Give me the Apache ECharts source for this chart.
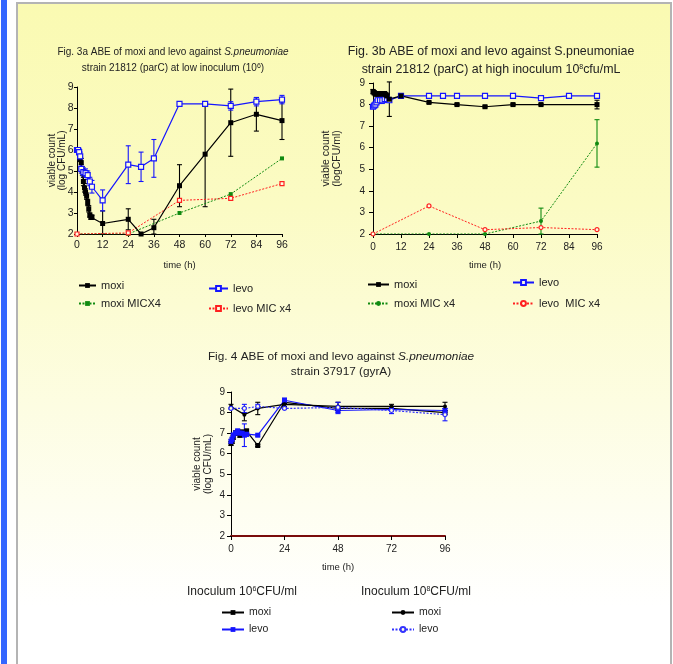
<!DOCTYPE html>
<html><head><meta charset="utf-8">
<script src="https://cdn.jsdelivr.net/npm/echarts@6/dist/echarts.min.js"></script>
<style>
html,body{margin:0;padding:0;width:673px;height:664px;overflow:hidden;background:#fff;}
#bar{position:absolute;left:1px;top:0;width:6px;height:664px;background:#3366ff;}
#panel{position:absolute;left:16px;top:2px;width:652px;height:670px;border:2px solid #b4b4b4;border-bottom:none;
  background:linear-gradient(to bottom,#fafab2 0%,#fbfbc4 30%,#fdfde2 60%,#ffffff 90%);}
#chart{position:absolute;left:0;top:0;width:673px;height:664px;}
</style></head>
<body>
<div id="bar"></div><div id="panel"></div><div id="chart"></div>
<script>
// ---------- Fig 3a (low inoculum) ----------
const t3a_moxi = [0,0.5,1,1.5,2,2.5,3,3.5,4,4.5,5,5.5,6,6.5,7,12,24,30,36,48,60,72,84,96];
const v3a_moxi = [6.0,6.0,5.9,5.6,5.4,5.0,4.5,4.2,4.0,3.8,3.5,3.2,2.9,2.8,2.8,2.5,2.7,2.0,2.3,4.3,5.8,7.3,7.7,7.4];
const e3a_moxi = [0.05,0.1,0.1,0.15,0.2,0.2,0.2,0.2,0.15,0.15,0.15,0.15,0.1,0.1,0.1,0.6,0.5,0,0.4,1.0,2.5,1.6,0.8,0.9];
const t3a_levo = [0,0.5,1,1.5,2,3,4,5,6,7,12,24,30,36,48,60,72,84,96];
const v3a_levo = [6.0,6.0,5.9,5.7,5.1,4.95,4.9,4.8,4.5,4.25,3.6,5.3,5.2,5.6,8.2,8.2,8.1,8.3,8.4];
const e3a_levo = [0.1,0.1,0.15,0.2,0.2,0.2,0.2,0.2,0.2,0.3,0.5,0.9,0.7,0.9,0.05,0.1,0.2,0.2,0.2];
const t3a_mic = [0,24,48,72,96];
const v3a_moxiMic = [2.0,2.0,3.0,3.9,5.6];
const v3a_levoMic = [2.0,2.05,3.6,3.7,4.4];

// ---------- Fig 3b (high inoculum) ----------
const t3b_moxi = [0,0.5,1,1.5,2,2.5,3,3.5,4,4.5,5,5.5,6,7,12,24,36,48,60,72,96];
const v3b_moxi = [8.6,8.55,8.5,8.5,8.5,8.5,8.5,8.5,8.5,8.5,8.5,8.45,8.4,8.25,8.4,8.1,8.0,7.9,8.0,8.0,8.0];
const e3b_moxi = [0.1,0.1,0.1,0.1,0.1,0.1,0.1,0.1,0.1,0.1,0.1,0.1,0.1,0.8,0.05,0.05,0.05,0.05,0.05,0.05,0.2];
const t3b_levo = [0,0.5,1,1.5,2,3,4,5,6,7,12,24,30,36,48,60,72,84,96];
const v3b_levo = [7.9,7.95,8.0,8.1,8.2,8.2,8.2,8.25,8.25,8.2,8.4,8.4,8.4,8.4,8.4,8.4,8.3,8.4,8.4];
const e3b_levo = [0.05,0.05,0.1,0.1,0.1,0.15,0.15,0.15,0.15,0.1,0.05,0.05,0.05,0.05,0.05,0.05,0.05,0.05,0.05];
const t3b_mic = [0,24,48,72,96];
const v3b_moxiMic = [2.0,2.0,2.0,2.6,6.2];
const e3b_moxiMic = [0,0,0,0.6,1.1];
const v3b_levoMic = [2.0,3.3,2.2,2.3,2.2];

// ---------- Fig 4 (strain 37917) ----------
const t4_low = [0,0.5,1,2,3,4,5,6,7,12,24,48,72,96];
const v4_moxi6 = [6.5,6.6,6.8,7.0,7.05,6.9,7.05,7.0,7.1,6.4,8.5,8.2,8.2,8.0];
const e4_moxi6 = [0.1,0.1,0.1,0.1,0.1,0.1,0.1,0.1,0.1,0.05,0.1,0.1,0.1,0.1];
const v4_levo6 = [6.6,6.7,6.9,7.0,7.1,7.0,7.0,6.9,6.95,6.9,8.6,8.1,8.15,8.1];
const e4_levo6 = [0.1,0.1,0.1,0.1,0.1,0.1,0.1,0.55,0.1,0.05,0.1,0.15,0.1,0.1];
const t4_high = [0,6,12,24,48,72,96];
const v4_moxi8 = [8.3,7.9,8.2,8.4,8.3,8.3,8.3];
const e4_moxi8 = [0.1,0.3,0.3,0.1,0.2,0.1,0.2];
const v4_levo8 = [8.2,8.2,8.3,8.2,8.25,8.1,7.9];
const e4_levo8 = [0.05,0.2,0.1,0.05,0.25,0.15,0.3];

const yTicks = [2,3,4,5,6,7,8,9];

const FONT = '"Liberation Sans", Arial, sans-serif';
const NARROW = '"Liberation Sans Narrow", "Arial Narrow", "Liberation Sans", sans-serif';
const TXT = '#222';

function pts(t, v){ return t.map((x,i)=>[x, v[i]]); }

function line(name, gi, t, v, o){
  return {
    type:'line', name, xAxisIndex:gi, yAxisIndex:gi, data:pts(t,v),
    symbol:o.symbol, symbolSize:o.size, showSymbol:true, animation:false,
    lineStyle:{color:o.color, width:o.width||1.2, type:o.dash||'solid'},
    itemStyle:{color:o.fill||o.color, borderColor:o.color, borderWidth:o.open?1.2:0},
    z:o.z||3
  };
}
function err(gi, t, v, e, color, cap){
  const data = [];
  t.forEach((x,i)=>{ if(e[i]>0) data.push([x, v[i]-e[i], v[i]+e[i]]); });
  return {
    type:'custom', xAxisIndex:gi, yAxisIndex:gi, silent:true, animation:false, z:2,
    encode:{x:0, y:[1,2]}, data,
    renderItem:(params, api)=>{
      const x = api.value(0);
      const lo = Math.max(api.value(1), 2), hi = Math.min(api.value(2), 9.05);
      const p1 = api.coord([x, lo]), p2 = api.coord([x, hi]);
      const w = cap||2.5;
      const st = {stroke:color, lineWidth:1.1};
      return {type:'group', children:[
        {type:'line', shape:{x1:p1[0], y1:p1[1], x2:p2[0], y2:p2[1]}, style:st},
        {type:'line', shape:{x1:p1[0]-w, y1:p1[1], x2:p1[0]+w, y2:p1[1]}, style:st},
        {type:'line', shape:{x1:p2[0]-w, y1:p2[1], x2:p2[0]+w, y2:p2[1]}, style:st}
      ]};
    }
  };
}

const grids = [
  {left:77, top:87, width:205, height:147},
  {left:373, top:83, width:224, height:151},
  {left:231, top:392, width:214, height:144}
];
function xAx(gi, interval, o){
  return {type:'value', gridIndex:gi, min:0, max:96, interval,
    name:'time (h)', nameLocation:'middle', nameGap:o.gap, nameMoveOverlap:false,
    nameTextStyle:{fontSize:9.5, color:TXT, fontFamily:FONT},
    axisLine:{onZero:false, lineStyle:{color:o.lc||'#000', width:o.lw||1}},
    axisTick:{length:o.tl||4, lineStyle:{color:'#000'}},
    axisLabel:{fontSize:o.fs||10, color:TXT, margin:o.m, fontFamily:FONT},
    splitLine:{show:false}};
}
function yAx(gi, name, o){
  return {type:'value', gridIndex:gi, min:yTicks[0], max:yTicks[yTicks.length-1], interval:1,
    name, nameLocation:'middle', nameGap:o.gap, nameRotate:90, nameMoveOverlap:false,
    nameTextStyle:{fontSize:o.nfs||10, color:TXT, fontFamily:o.font||FONT, lineHeight:o.lh||11},
    axisLine:{show:true, lineStyle:{color:'#000'}},
    axisTick:{show:true, length:o.tl||4, lineStyle:{color:'#000'}},
    axisLabel:{fontSize:o.fs||10, color:TXT, margin:o.m, fontFamily:FONT},
    splitLine:{show:false}};
}

const BLUE = '#1515ff', RED = '#ff2020', GREEN = '#108a10', BG = '#fdfde0';

const series = [
  // 3a
  err(0, t3a_moxi, v3a_moxi, e3a_moxi, '#000'),
  err(0, t3a_levo, v3a_levo, e3a_levo, BLUE),
  line('3a_mm', 0, t3a_mic, v3a_moxiMic, {color:GREEN, dash:[2,1.5], symbol:'rect', size:4, width:1}),
  line('3a_lm', 0, t3a_mic, v3a_levoMic, {color:RED, dash:[2,1.5], symbol:'rect', size:4, open:true, fill:BG, width:1}),
  line('3a_m', 0, t3a_moxi, v3a_moxi, {color:'#000', symbol:'rect', size:5}),
  line('3a_l', 0, t3a_levo, v3a_levo, {color:BLUE, symbol:'rect', size:5, open:true, fill:BG}),
  // 3b
  err(1, t3b_moxi, v3b_moxi, e3b_moxi, '#000'),
  err(1, t3b_levo, v3b_levo, e3b_levo, BLUE),
  err(1, t3b_mic, v3b_moxiMic, e3b_moxiMic, GREEN),
  line('3b_mm', 1, t3b_mic, v3b_moxiMic, {color:GREEN, dash:[2,1.5], symbol:'circle', size:4, width:1}),
  line('3b_lm', 1, t3b_mic, v3b_levoMic, {color:RED, dash:[2,1.5], symbol:'circle', size:4, open:true, fill:BG, width:1}),
  line('3b_l', 1, t3b_levo, v3b_levo, {color:BLUE, symbol:'rect', size:5, open:true, fill:BG}),
  line('3b_m', 1, t3b_moxi, v3b_moxi, {color:'#000', symbol:'rect', size:5}),
  // 4
  err(2, t4_low, v4_moxi6, e4_moxi6, '#000'),
  err(2, t4_low, v4_levo6, e4_levo6, BLUE),
  err(2, t4_high, v4_moxi8, e4_moxi8, '#000'),
  err(2, t4_high, v4_levo8, e4_levo8, BLUE),
  line('4_m6', 2, t4_low, v4_moxi6, {color:'#000', symbol:'rect', size:5}),
  line('4_l6', 2, t4_low, v4_levo6, {color:BLUE, symbol:'rect', size:5}),
  line('4_m8', 2, t4_high, v4_moxi8, {color:'#000', symbol:'circle', size:4}),
  line('4_l8', 2, t4_high, v4_levo8, {color:'#3333ff', dash:[2,1.5], symbol:'circle', size:4, open:true, fill:BG})
];

const LABELS = {
  '3a_m':'moxi', '3a_l':'levo', '3a_mm':'moxi MICX4', '3a_lm':'levo MIC x4',
  '3b_m':'moxi', '3b_l':'levo', '3b_mm':'moxi MIC x4', '3b_lm':'levo  MIC x4',
  '4_m6':'moxi', '4_l6':'levo', '4_m8':'moxi', '4_l8':'levo'
};
function leg(data, left, top, gap, font, fs, iw, tg){
  return {data, left, top, orient:'vertical', itemGap:gap, itemWidth:iw||20, itemHeight:6,
    selectedMode:false, padding:0, itemTextGap:tg||3,
    formatter:n=>LABELS[n],
    textStyle:{fontSize:fs||10.5, color:TXT, fontFamily:font||FONT}};
}

const sup = {fontSize:7, verticalAlign:'top', lineHeight:8};
function ttl(x, y, text, font, fs, extra){
  return {type:'text', x, y, silent:true, style:Object.assign({
    text, font:fs+'px '+font, fill:TXT, textAlign:'center', textVerticalAlign:'middle',
    rich:{i:{fontStyle:'italic', fontSize:fs, fontFamily:font, fill:TXT}, s:Object.assign({fontFamily:font, fill:TXT}, sup)}
  }, extra||{})};
}

const option = {
  animation:false,
  grid:grids,
  xAxis:[
    xAx(0,12,{gap:26, m:6, tl:3, fs:10.5}),
    xAx(1,12,{gap:26, m:8, tl:4, fs:10}),
    xAx(2,24,{gap:26, m:8, tl:4, fs:10, lc:'#7a0c0c', lw:2})
  ],
  yAxis:[
    yAx(0,'viable count\n(log CFU/mL)',{gap:10.5, font:NARROW, nfs:10, lh:9.5, m:3.5, tl:3, fs:10.5}),
    yAx(1,'viable count\n(logCFU/ml)',{gap:30, nfs:10.5, lh:11, m:8, tl:4, fs:10}),
    yAx(2,'viable count\n(log CFU/mL)',{gap:17, nfs:10, lh:11, m:6, tl:4, fs:10})
  ],
  legend:[
    leg(['3a_m','3a_mm'], 78, 280, 7, NARROW, 11, 17, 3),
    leg(['3a_l','3a_lm'], 208, 283, 9, NARROW, 11, 19, 2),
    leg(['3b_m','3b_mm'], 367, 279, 8, FONT, 11, 21, 5),
    leg(['3b_l','3b_lm'], 512, 277, 10, FONT, 11, 21, 4),
    leg(['4_m6','4_l6'], 221, 607, 6, FONT, 10.5, 22, 2),
    leg(['4_m8','4_l8'], 391, 607, 6, FONT, 10.5, 22, 2)
  ],
  graphic:[
    ttl(173, 52, 'Fig. 3a ABE of moxi and levo against {i|S.pneumoniae}', NARROW, 10),
    ttl(173, 68, 'strain 21812 (parC) at low inoculum (10{s|6})', NARROW, 10),
    ttl(491, 52, 'Fig. 3b ABE of moxi and levo against S.pneumoniae', FONT, 12.4),
    ttl(491, 70, 'strain 21812 (parC) at high inoculum 10{s|8}cfu/mL', FONT, 12.4),
    ttl(341, 357, 'Fig. 4 ABE of moxi and levo against {i|S.pneumoniae}', FONT, 11.8),
    ttl(341, 372, 'strain 37917 (gyrA)', FONT, 11.8),
    ttl(242, 592, 'Inoculum 10{s|6}CFU/ml', FONT, 12),
    ttl(416, 592, 'Inoculum 10{s|8}CFU/ml', FONT, 12)
  ],
  series
};
const chart = echarts.init(document.getElementById('chart'), null, {renderer:'canvas'});
chart.setOption(option);
</script>
</body></html>
